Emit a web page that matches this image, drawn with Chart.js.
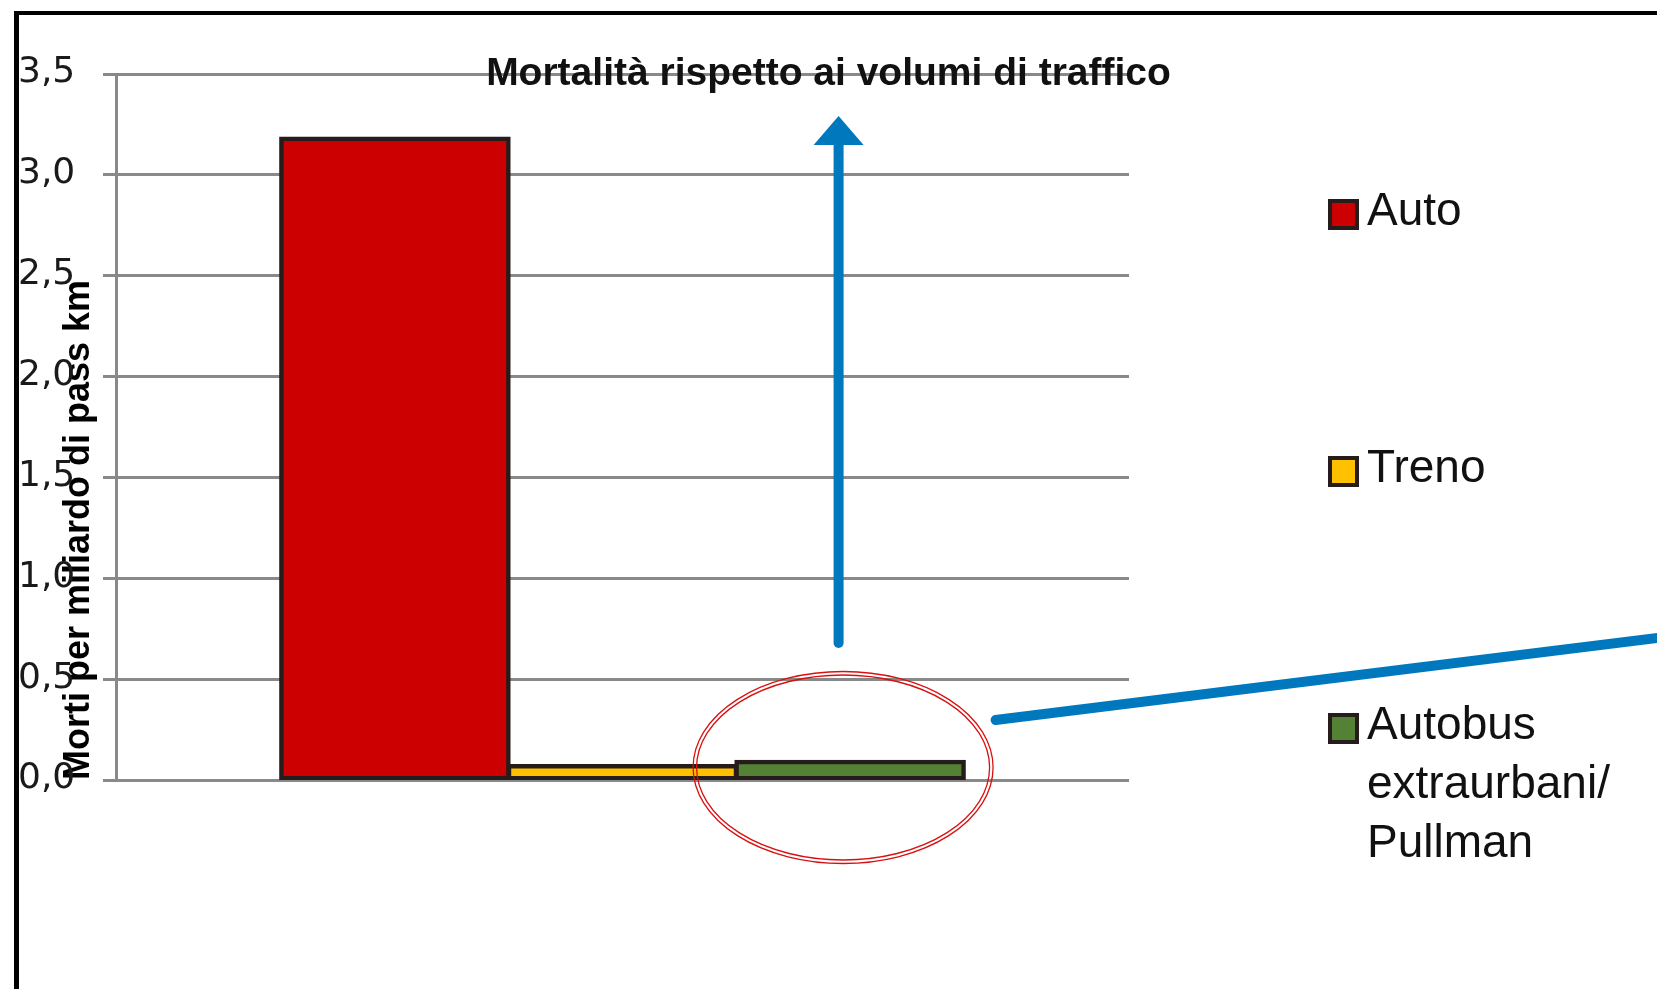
<!DOCTYPE html>
<html lang="it">
<head>
<meta charset="utf-8">
<title>Mortalità rispetto ai volumi di traffico</title>
<script src="https://cdn.jsdelivr.net/npm/chart.js@4.4.1/dist/chart.umd.min.js"></script>
<style>
    html, body { margin: 0; padding: 0; background: #fff; overflow: hidden; }
    #wrap { position: relative; width: 1657px; height: 989px; font-family: "Liberation Sans", Arial, sans-serif; }
    #frame { position: absolute; left: 14px; top: 11px; width: 1700px; height: 1100px; border-left: 5px solid #000; border-top: 4px solid #000; pointer-events: none; }
    #chart-title { position: absolute; left: 0; top: 52px; width: 1657px; text-align: center; font-weight: bold; font-size: 39px; line-height: 39px; color: #111; }
    #legend { position: absolute; left: 1328px; top: 180px; width: 329px; }
    .legend-item { display: flex; align-items: flex-start; margin-bottom: 198px; }
    .legend-box { flex: none; width: 31px; height: 31px; box-sizing: border-box; border: 4px solid #261c1c; margin-top: 19px; }
    .legend-text { margin-left: 8px; width: 285px; font-size: 46px; line-height: 59px; color: #111; }
</style>
</head>
<body>
<div id="wrap">
    <canvas id="mortalityChart"></canvas>
    <div id="frame"></div>
    <div id="chart-title">Mortalità rispetto ai volumi di traffico</div>
    <div id="legend"></div>
</div>
<script>
const categories = [''];
const seriesLabels = ['Auto', 'Treno', 'Autobus extraurbani/ Pullman'];
const seriesValues = [[3.18], [0.07], [0.09]];
const yTickLabels = ['0,0', '0,5', '1,0', '1,5', '2,0', '2,5', '3,0', '3,5'];

const seriesColors = ['#cc0000', '#ffc000', '#548235'];
const fontFamily = '"Liberation Sans", Arial, sans-serif';

// blue arrow, red double ellipse and callout line, anchored on the bus bar
const annotations = {
    id: 'annotations',
    afterDatasetsDraw: (chart) => {
        const { ctx, chartArea, scales: { y } } = chart;
        const bus = chart.getDatasetMeta(2).data[0];
        const cx = bus.x - 7;
        const cy = y.getPixelForValue(0) - 12.5;

        ctx.save();
        ctx.strokeStyle = '#d81010';
        ctx.lineWidth = 1.3;
        [[150, 96], [146.5, 92.5]].forEach(([rx, ry]) => {
            ctx.beginPath();
            ctx.ellipse(cx, cy, rx, ry, 0, 0, 2 * Math.PI);
            ctx.stroke();
        });

        ctx.strokeStyle = '#0078be';
        ctx.fillStyle = '#0078be';
        ctx.lineWidth = 10;
        ctx.lineCap = 'round';
        const ax = cx - 4.5;
        const tipY = chartArea.top + 42;
        ctx.beginPath();
        ctx.moveTo(ax, cy - 124.5);
        ctx.lineTo(ax, tipY + 28);
        ctx.stroke();
        ctx.beginPath();
        ctx.moveTo(ax, tipY);
        ctx.lineTo(ax + 25, tipY + 29);
        ctx.lineTo(ax - 25, tipY + 29);
        ctx.closePath();
        ctx.fill();

        const sx = cx + 152.5, sy = cy - 47.5;
        const ex = chart.width + 10;
        ctx.beginPath();
        ctx.moveTo(sx, sy);
        ctx.lineTo(ex, sy - 0.124 * (ex - sx));
        ctx.stroke();
        ctx.restore();
    }
};

const canvas = document.getElementById('mortalityChart');
canvas.width = 1657;
canvas.height = 989;

const chart = new Chart(canvas.getContext('2d'), {
    type: 'bar',
    data: {
        labels: categories,
        datasets: seriesLabels.map((label, i) => ({
            label: label,
            data: seriesValues[i],
            backgroundColor: seriesColors[i],
            borderColor: '#261c1c',
            borderWidth: 4.5,
            borderSkipped: false,
            inflateAmount: 2,
            barPercentage: 1,
            categoryPercentage: 0.674
        }))
    },
    options: {
        responsive: false,
        animation: false,
        layout: { padding: { left: 18, top: 74, right: 528, bottom: 209 } },
        plugins: {
            legend: { display: false },
            title: { display: false },
            tooltip: { enabled: false }
        },
        scales: {
            x: { display: false },
            y: {
                min: 0,
                max: 3.5,
                ticks: {
                    stepSize: 0.5,
                    crossAlign: 'far',
                    labelOffset: -1,
                    color: '#1a1a1a',
                    font: { family: '"DejaVu Sans", sans-serif', size: 36 },
                    callback: (value, index) => yTickLabels[index]
                },
                grid: { color: '#898989', lineWidth: 3, tickLength: 13 },
                border: { display: true, color: '#898989', width: 3 },
                title: {
                    display: true,
                    text: 'Morti per miliardo di pass km',
                    align: 'start',
                    color: '#000',
                    font: { family: fontFamily, size: 36, weight: 'bold', lineHeight: 1.2 },
                    padding: { top: 39, bottom: 0 }
                },
                afterFit: (scale) => { scale.width = 98; }
            }
        }
    },
    plugins: [annotations]
});

document.getElementById('legend').innerHTML = chart.data.datasets.map(ds => `
    <div class="legend-item">
        <span class="legend-box" style="background:${ds.backgroundColor}"></span>
        <span class="legend-text">${ds.label}</span>
    </div>`).join('');
</script>
</body>
</html>
